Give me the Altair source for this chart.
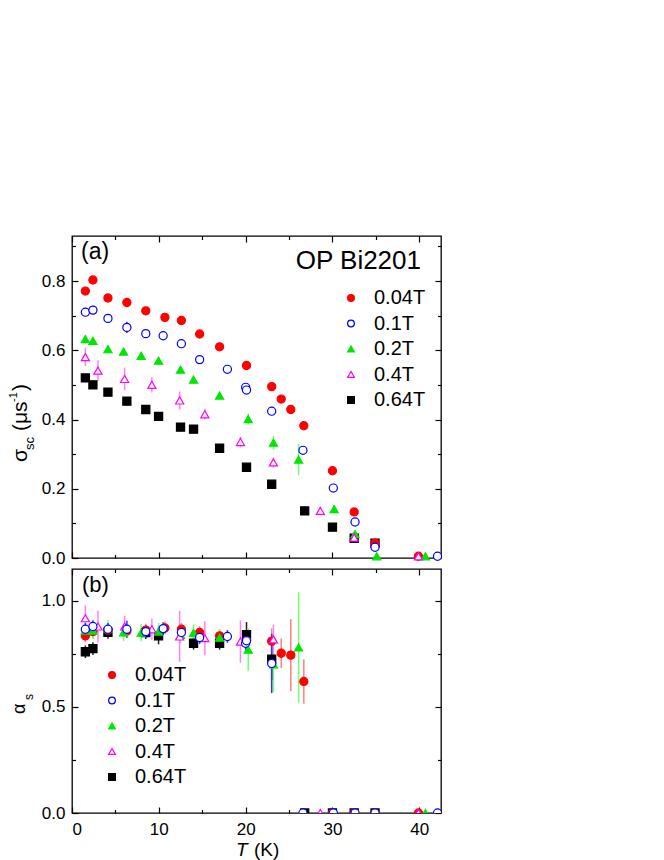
import altair as alt
import pandas as pd

FONT = "Liberation Sans"

series_names = ["0.04T", "0.1T", "0.2T", "0.4T", "0.64T"]
err_names = ["e0.04T", "e0.1T", "e0.2T", "e0.4T", "e0.64T"]
stroke_colors = ["#FF0000", "#0000FF", "#00E600", "#FF00FF", "#000000"]
fill_colors = ["#FF0000", "#FFFFFF", "#00E600", "#FFFFFF", "#000000"]
err_colors = ["#FF8080", "#3030FF", "#70FF70", "#FF80FF", "#202020"]
shapes = ["circle", "circle", "triangle-up", "triangle-up", "square"]

a_T_004 = [1.54, 2.41, 4.14, 6.32, 8.5, 10.7, 12.6, 14.7, 17.0, 20.1, 23.0, 24.1, 25.2, 26.7, 30.0, 32.5, 34.9, 39.9]
a_v_004 = [0.771, 0.803, 0.751, 0.738, 0.714, 0.695, 0.686, 0.647, 0.610, 0.556, 0.495, 0.459, 0.429, 0.382, 0.252, 0.133, 0.043, 0.005]
a_e_004 = [0.006] * 18

a_T_01 = [1.54, 2.41, 4.14, 6.32, 8.5, 10.5, 12.6, 14.7, 17.9, 20.0, 20.1, 23.0, 26.6, 30.1, 32.6, 34.9, 42.1]
a_v_01 = [0.710, 0.716, 0.692, 0.666, 0.648, 0.642, 0.619, 0.573, 0.545, 0.493, 0.485, 0.424, 0.311, 0.202, 0.104, 0.031, 0.005]
a_e_01 = [0.008, 0.008, 0.008, 0.016, 0.01, 0.008, 0.008, 0.008, 0.008, 0.008, 0.008, 0.01, 0.01, 0.01, 0.008, 0.008, 0.005]

a_T_02 = [1.54, 2.41, 4.14, 5.94, 7.97, 9.97, 12.5, 14.0, 17.0, 20.3, 23.2, 26.1, 30.2, 32.6, 35.1, 40.7]
a_v_02 = [0.632, 0.627, 0.603, 0.596, 0.584, 0.570, 0.544, 0.515, 0.469, 0.401, 0.333, 0.284, 0.141, 0.069, 0.005, 0.005]
a_e_02 = [0.012, 0.012, 0.012, 0.01, 0.01, 0.01, 0.01, 0.01, 0.01, 0.016, 0.02, 0.045, 0.012, 0.01, 0.005, 0.005]

a_T_04 = [1.54, 2.99, 6.06, 9.2, 12.4, 15.3, 19.4, 23.2, 28.6, 32.5, 39.9]
a_v_04 = [0.580, 0.541, 0.517, 0.500, 0.455, 0.415, 0.335, 0.276, 0.136, 0.059, 0.005]
a_e_04 = [0.026, 0.03, 0.033, 0.022, 0.026, 0.015, 0.015, 0.015, 0.01, 0.01, 0.008]

a_T_064 = [1.54, 2.41, 4.14, 6.32, 8.5, 9.97, 12.5, 14.0, 17.0, 20.1, 23.0, 26.8, 30.0, 32.5, 34.9]
a_v_064 = [0.520, 0.500, 0.479, 0.453, 0.429, 0.409, 0.378, 0.372, 0.317, 0.262, 0.213, 0.136, 0.089, 0.057, 0.043]
a_e_064 = [0.012] * 15

b_T_004 = [1.54, 2.41, 4.14, 6.32, 8.5, 10.7, 12.6, 14.7, 17.0, 20.1, 23.0, 24.1, 25.2, 26.7, 30.0, 32.5, 34.9, 39.9]
b_v_004 = [0.835, 0.855, 0.862, 0.858, 0.862, 0.872, 0.866, 0.851, 0.835, 0.812, 0.810, 0.753, 0.744, 0.620, 0.0, 0.0, 0.0, 0.0]
b_e_004 = [0.03, 0.03, 0.03, 0.03, 0.03, 0.03, 0.03, 0.03, 0.03, 0.05, 0.06, 0.07, 0.17, 0.105, 0.0, 0.0, 0.0, 0.0]

b_T_01 = [1.54, 2.41, 4.14, 6.32, 8.5, 10.5, 12.6, 14.7, 17.9, 20.0, 20.1, 23.0, 26.6, 30.1, 32.6, 34.9, 42.1]
b_v_01 = [0.866, 0.879, 0.866, 0.866, 0.855, 0.869, 0.851, 0.827, 0.832, 0.800, 0.812, 0.705, 0.0, 0.0, 0.0, 0.0, 0.0]
b_e_01 = [0.03, 0.03, 0.03, 0.04, 0.03, 0.03, 0.03, 0.03, 0.03, 0.04, 0.04, 0.14, 0.0, 0.0, 0.0, 0.0, 0.0]

b_T_02 = [1.54, 2.41, 4.14, 5.94, 7.97, 9.97, 12.5, 14.0, 17.0, 20.3, 23.2, 26.1, 30.2, 32.6, 35.1, 40.7]
b_v_02 = [0.860, 0.860, 0.870, 0.851, 0.850, 0.855, 0.840, 0.849, 0.826, 0.770, 0.700, 0.780, 0.0, 0.0, 0.0, 0.0]
b_e_02 = [0.04, 0.04, 0.04, 0.04, 0.04, 0.04, 0.04, 0.04, 0.04, 0.10, 0.13, 0.26, 0.0, 0.0, 0.0, 0.0]

b_T_04 = [1.54, 2.99, 6.06, 9.2, 12.4, 15.3, 19.4, 23.2, 28.6, 32.5, 39.9]
b_v_04 = [0.918, 0.879, 0.879, 0.866, 0.832, 0.824, 0.808, 0.818, 0.0, 0.0, 0.0]
b_e_04 = [0.06, 0.075, 0.05, 0.05, 0.12, 0.08, 0.10, 0.07, 0.0, 0.0, 0.0]

b_T_064 = [1.54, 2.41, 4.14, 8.5, 9.97, 14.0, 17.0, 20.1, 23.0, 26.8, 30.0, 32.5, 34.9]
b_v_064 = [0.760, 0.775, 0.851, 0.850, 0.835, 0.800, 0.800, 0.840, 0.725, 0.0, 0.0, 0.0, 0.0]
b_e_064 = [0.03, 0.03, 0.03, 0.03, 0.04, 0.03, 0.03, 0.06, 0.10, 0.0, 0.0, 0.0, 0.0]

x_major = [0, 10, 20, 30, 40]
x_minor = [5, 15, 25, 35]
a_y_major = [0.0, 0.2, 0.4, 0.6, 0.8]
a_y_minor = [0.1, 0.3, 0.5, 0.7, 0.9]
b_y_major = [0.0, 0.5, 1.0]
b_y_minor = [0.25, 0.75]


def build_df(sets):
    order = [4, 0, 2, 3, 1]
    frames = []
    for i in order:
        T, v, e = sets[i]
        frames.append(pd.DataFrame({
            "T": T, "v": v,
            "lo": [a - b for a, b in zip(v, e)],
            "hi": [a + b for a, b in zip(v, e)],
            "series": series_names[i],
            "eseries": err_names[i],
        }))
    return pd.concat(frames, ignore_index=True)


df_a = build_df([(a_T_004, a_v_004, a_e_004), (a_T_01, a_v_01, a_e_01), (a_T_02, a_v_02, a_e_02),
                 (a_T_04, a_v_04, a_e_04), (a_T_064, a_v_064, a_e_064)])
df_b = build_df([(b_T_004, b_v_004, b_e_004), (b_T_01, b_v_01, b_e_01), (b_T_02, b_v_02, b_e_02),
                 (b_T_04, b_v_04, b_e_04), (b_T_064, b_v_064, b_e_064)])

W = 369
HA = 322
HB = 244
XDOM = [0, 42.5]
one = pd.DataFrame({"k": [0]})


def txt(s, x, y, size, align="left", angle=0, dx=0, dy=0, italic=False):
    kw = dict(text=s, font=FONT, fontSize=size, color="black", align=align,
              baseline="alphabetic", dx=dx, dy=dy)
    if angle:
        kw["angle"] = angle
    if italic:
        kw["fontStyle"] = "italic"
    return alt.Chart(one).mark_text(**kw).encode(x=alt.value(x), y=alt.value(y))


def no_axis_props():
    return dict(labels=False, domain=False, grid=False, title=None)


def panel(df, ydom, ymaj, yminor, H, show_x_labels, legend_xy, clip, extra):
    xs = alt.Scale(domain=XDOM, nice=False, zero=False)
    ys = alt.Scale(domain=ydom, nice=False, zero=False)

    if show_x_labels:
        xaxis = alt.Axis(orient="bottom", values=x_major, format="d",
                         ticks=False, tickSize=0, domain=False, grid=False, title=None,
                         labelPadding=8, labelFontSize=17, labelFont=FONT, labelColor="black")
    else:
        xaxis = None

    err = alt.Chart(df).mark_rule(strokeWidth=1.5, clip=clip).encode(
        x=alt.X("T:Q", scale=xs, axis=xaxis),
        y=alt.Y("lo:Q", scale=ys, axis=alt.Axis(
            orient="left", values=ymaj, format=".1f", ticks=False, tickSize=0,
            domain=False, grid=False, title=None, labelPadding=7,
            labelFontSize=17, labelFont=FONT, labelColor="black")),
        y2="hi:Q",
        color=alt.Color("eseries:N", scale=alt.Scale(domain=err_names, range=err_colors), legend=None),
    )

    leg = alt.Legend(title=None, orient="none", legendX=legend_xy[0], legendY=legend_xy[1],
                     labelFont=FONT, labelFontSize=20, labelColor="black",
                     symbolSize=46, symbolStrokeWidth=1.2, rowPadding=5.5, labelOffset=13)

    pts = alt.Chart(df).mark_point(size=66, strokeWidth=1.2, opacity=1, clip=clip).encode(
        x=alt.X("T:Q", scale=xs, axis=None),
        y=alt.Y("v:Q", scale=ys, axis=None),
        stroke=alt.Stroke("series:N", scale=alt.Scale(domain=series_names, range=stroke_colors), legend=leg),
        fill=alt.Fill("series:N", scale=alt.Scale(domain=series_names, range=fill_colors), legend=leg),
        shape=alt.Shape("series:N", scale=alt.Scale(domain=series_names, range=shapes), legend=leg),
    )

    def ticks(xorient, yorient, xv, yv, size):
        return alt.Chart(df).mark_point(opacity=0).encode(
            x=alt.X("T:Q", scale=xs, axis=alt.Axis(
                orient=xorient, offset=-H, values=xv, tickSize=size, tickWidth=1.2,
                tickColor="black", **no_axis_props())),
            y=alt.Y("v:Q", scale=ys, axis=alt.Axis(
                orient=yorient, offset=-W, values=yv, tickSize=size, tickWidth=1.2,
                tickColor="black", **no_axis_props())),
        )

    t1 = ticks("top", "right", x_major, ymaj, 6)
    t2 = ticks("top", "right", x_minor, yminor, 3.5)
    t3 = ticks("bottom", "left", x_major, ymaj, 6)
    t4 = ticks("bottom", "left", x_minor, yminor, 3.5)

    return alt.layer(err, pts, t1, t2, t3, t4, *extra).resolve_axis(
        x="independent", y="independent"
    ).properties(width=W, height=H)


extra_a = [
    txt("(a)", 9, 23, 23),
    txt("OP Bi2201", 349, 33, 26, align="right"),
    txt("σ", -45, 226, 21, angle=270),
    txt("sc", -45, 226, 13, angle=270, dx=12, dy=7),
    txt("(μs", -45, 226, 21, angle=270, dx=31),
    txt("-1", -45, 226, 11, angle=270, dx=60, dy=-10),
    txt(")", -45, 226, 21, angle=270, dx=71),
]

extra_b = [
    txt("(b)", 10, 22.5, 22),
    txt("α", -47.5, 145, 18, angle=270),
    txt("s", -47.5, 145, 12, angle=270, dx=14, dy=8.5),
    txt("T", 164, 287, 19, italic=True),
    txt("(K)", 182, 287, 19),
]

pa = panel(df_a, [0, 0.93], a_y_major, a_y_minor, HA, False, (269, 52), False, extra_a)
pb = panel(df_b, [0, 1.15], b_y_major, b_y_minor, HB, True, (30, 96), True, extra_b)

chart = alt.vconcat(pa, pb, spacing=0).resolve_scale(
    x="independent", y="independent", color="independent",
    stroke="independent", fill="independent", shape="independent",
).properties(
    padding={"left": -1, "top": 226, "right": 10, "bottom": 0}
).configure_view(
    stroke="black", strokeWidth=1.3
)

chart.save("out.html", embed_options={"renderer": "svg", "actions": False})
